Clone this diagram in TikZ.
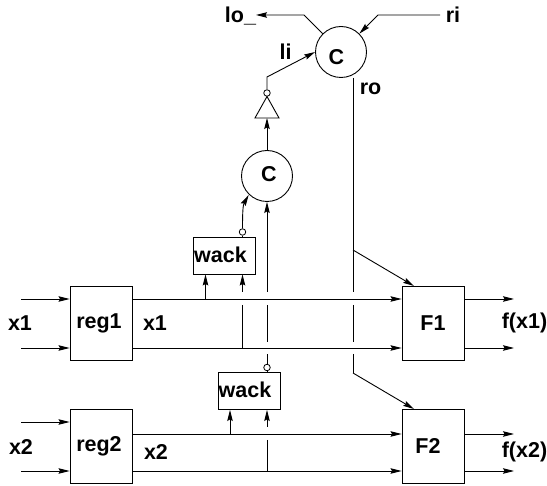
\documentclass[tikz,border=0pt]{standalone}
\usepackage{fontspec}
\setmainfont{Liberation Sans}
\usetikzlibrary{arrows.meta}
\usetikzlibrary{calc,positioning}
\tikzset{
  wire/.style={line width=0.9pt},
  sig/.style={wire,-{Stealth[length=11pt,width=5.5pt,inset=1.5pt]}},
  blk/.style={draw,line width=0.9pt,minimum width=62pt,minimum height=74pt,inner sep=0pt},
  wackbox/.style={draw,line width=0.9pt,minimum width=62pt,minimum height=37pt,inner sep=0pt},
  celem/.style={draw,circle,line width=0.9pt,minimum size=51pt,inner sep=0pt},
  bubble/.style={draw,circle,line width=0.8pt,minimum size=6.5pt,inner sep=0pt},
  lbl/.style={inner sep=0pt,font=\fontsize{21.5}{24}\selectfont\bfseries}
}
\begin{document}
\begin{tikzpicture}[x=1pt,y=-1pt]
  \useasboundingbox (0,0) rectangle (547,486);

  % Blocs
  \node[blk] (reg1) at (101,323) {};
  \node[blk] (reg2) at (101,446) {};
  \node[blk] (F1) at (433,323) {};
  \node[blk] (F2) at (433,446) {};
  \node[wackbox] (wack1) at (224,255.5) {};
  \node[wackbox] (wack2) at (249,391) {};
  \node[celem] (c1) at (341,52) {};
  \node[celem] (c2) at (267,176) {};
  \node[bubble] (b1) at (242.5,232) {};
  \node[bubble] (b2) at (267,367.5) {};
  \node[bubble] (b3) at (267,93) {};

  % Inverseur
  \draw[wire] (255,118) coordinate (invl) -- (267,96.5) coordinate (invt) -- (279,118) coordinate (invr) -- cycle;
  \coordinate (invb) at (267,118);

  % Lignes de donnees
  \foreach \reg/\fun/\up/\dn/\inp in {
    reg1/F1/299/348/299,
    reg2/F2/434/471/422
  } {
    \draw[sig] (21,\inp) -- (\reg.west |- 0,\inp);
    \draw[sig] (21,\dn) -- (\reg.west |- 0,\dn);
    \draw[sig] (\reg.east |- 0,\up) -- (\fun.west |- 0,\up);
    \draw[sig] (\reg.east |- 0,\dn) -- (\fun.west |- 0,\dn);
    \draw[sig] (\fun.east |- 0,\up) -- (514,\up);
    \draw[sig] (\fun.east |- 0,\dn) -- (514,\dn);
  }

  % Retours vers wack
  \draw[sig] (205.5,299) -- (wack1.south -| 205.5,0);
  \draw[sig] (242.5,292) -- (wack1.south -| 242.5,0);
  \draw[wire] (242.5,305) -- (242.5,348);
  \draw[sig] (230,434) -- (wack2.south -| 230,0);
  \draw[sig] (267,427) -- (wack2.south -| 267,0);
  \draw[wire] (267,440) -- (267,471);
  \draw[wire] (b2) -- (wack2.north -| b2);

  % Verticale vers le C du bas
  \draw[wire] (b2.north) -- (267,354);
  \draw[wire] (267,342) -- (267,305);
  \draw[sig] (267,292) -- (c2.south);
  \draw[wire] (b1) -- (wack1.north -| b1);
  \draw[sig] (b1.north) .. controls (242.5,212) and (243,205) .. (c2.south west |- 0,195) ;

  % Inverseur vers C du haut
  \draw[sig] (c2.north) -- (invb);
  \draw[sig] (b3.north) |- (267,77) -- (c1.west);

  % lo_ et ri
  \draw[sig] (c1.north west) -- (304,15) -- (256,15);
  \draw[sig] (440,15) -- (378,15) -- (c1.north east);

  % ro
  \draw[wire] (353,78) -- (353,292);
  \draw[wire] (353,305) -- (353,342);
  \draw[wire] (353,354) -- (353,373);
  \draw[sig] (353,250) -- (414,286);
  \draw[sig] (353,373) -- (414,409);

  % Textes
  \node[lbl] (t_wack1) at (220.5,255) {wack};
  \node[lbl] (t_wack2) at (245,390) {wack};
  \node[lbl] (t_reg1) at (99,323) {reg1};
  \node[lbl] (t_reg2) at (99,446) {reg2};
  \node[lbl] (t_F1) at (433,323) {F1};
  \node[lbl] (t_F2) at (428,446) {F2};
  \node[lbl] (t_c1) at (336.5,57) {C};
  \node[lbl] (t_c2) at (269,174) {C};
  \node[lbl] (t_lo) at (240.5,16) {lo\_};
  \node[lbl] (t_ri) at (453,15) {ri};
  \node[lbl] (t_li) at (285.5,52) {li};
  \node[lbl] (t_ro) at (370.5,89) {ro};
  \node[lbl] (t_x1a) at (20,323) {x1};
  \node[lbl] (t_x1b) at (155,323) {x1};
  \node[lbl] (t_x2a) at (21,447) {x2};
  \node[lbl] (t_x2b) at (156,452) {x2};
  \node[lbl] (t_fx1) at (524.5,323) {f(x1)};
  \node[lbl] (t_fx2) at (524.5,452) {f(x2)};
\end{tikzpicture}
\end{document}
